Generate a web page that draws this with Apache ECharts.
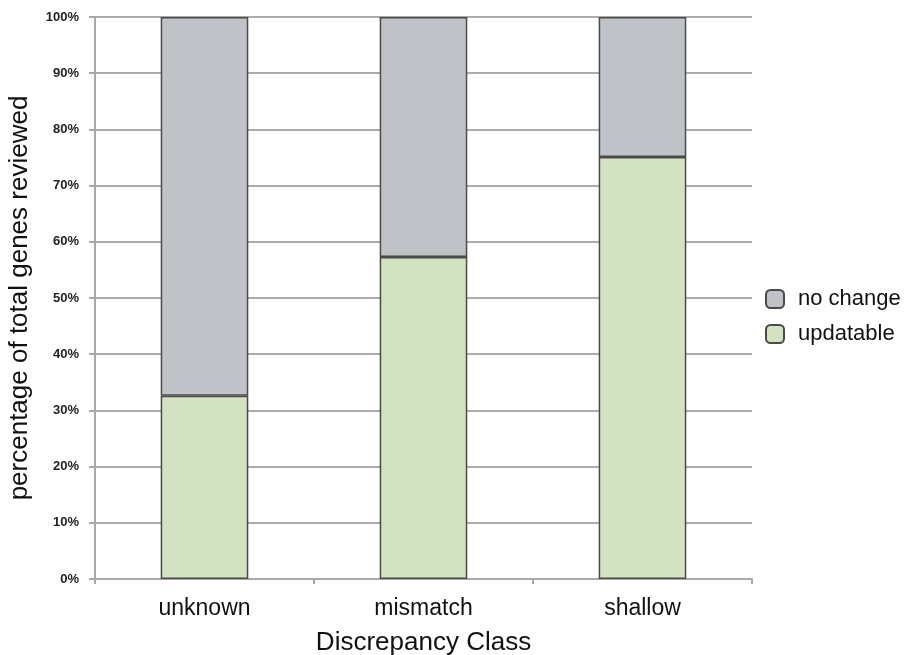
<!DOCTYPE html>
<html>
<head>
<meta charset="utf-8">
<script src="https://cdn.jsdelivr.net/npm/echarts@6/dist/echarts.min.js"></script>
<style>
html,body{margin:0;padding:0;background:#fff;}
#chart{width:907px;height:655px;}
</style>
</head>
<body>
<div id="chart"></div>
<script>
var categories = ['unknown', 'mismatch', 'shallow'];
var updatable = [32.6, 57.3, 75.1];
var noChange = [67.4, 42.7, 24.9];
var yTicks = [0, 10, 20, 30, 40, 50, 60, 70, 80, 90, 100];

var chart = echarts.init(document.getElementById('chart'));
var fontFam = 'Liberation Sans, Arial, Helvetica, sans-serif';
chart.setOption({
  animation: false,
  backgroundColor: '#ffffff',
  grid: { left: 95, right: 155, top: 17, bottom: 76, containLabel: false, outerBoundsMode: 'none' },
  legend: {
    data: ['no change', 'updatable'],
    orient: 'vertical',
    left: 760, top: 283,
    itemWidth: 18, itemHeight: 18, itemGap: 13,
    textStyle: { fontSize: 22, color: '#111', fontFamily: fontFam, padding: [0, 0, 0, 9] },
    icon: 'roundRect'
  },
  xAxis: {
    type: 'category',
    data: categories,
    name: 'Discrepancy Class',
    nameLocation: 'middle',
    nameGap: 51,
    nameTextStyle: { fontSize: 26, color: '#111', fontFamily: fontFam },
    axisLine: { lineStyle: { color: '#a8a8a8', width: 2 } },
    axisTick: { show: true, length: 5, lineStyle: { color: '#a8a8a8', width: 2 } },
    axisLabel: { fontSize: 23, color: '#111', margin: 18, fontFamily: fontFam }
  },
  yAxis: {
    type: 'value',
    min: 0, max: 100, interval: 10,
    name: 'percentage of total genes reviewed',
    nameLocation: 'middle',
    nameGap: 62,
    nameTextStyle: { fontSize: 26, color: '#111', fontFamily: fontFam },
    axisLine: { show: true, lineStyle: { color: '#a8a8a8', width: 2 } },
    axisTick: { show: true, length: 6, lineStyle: { color: '#a8a8a8', width: 2 } },
    axisLabel: {
      fontSize: 13, fontWeight: 'bold', color: '#222', margin: 16, fontFamily: fontFam,
      formatter: function (v) { return yTicks.indexOf(v) >= 0 ? v + '%' : ''; }
    },
    splitLine: { show: true, lineStyle: { color: '#ababab', width: 2 } }
  },
  series: [
    {
      name: 'updatable', type: 'bar', stack: 'total', barWidth: '40%',
      data: updatable,
      itemStyle: { color: '#d3e3c2', borderColor: '#4a4a4a', borderWidth: 1.5 }
    },
    {
      name: 'no change', type: 'bar', stack: 'total', barWidth: '40%',
      data: noChange,
      itemStyle: { color: '#bfc2c6', borderColor: '#4a4a4a', borderWidth: 1.5 }
    }
  ]
});
</script>
</body>
</html>
